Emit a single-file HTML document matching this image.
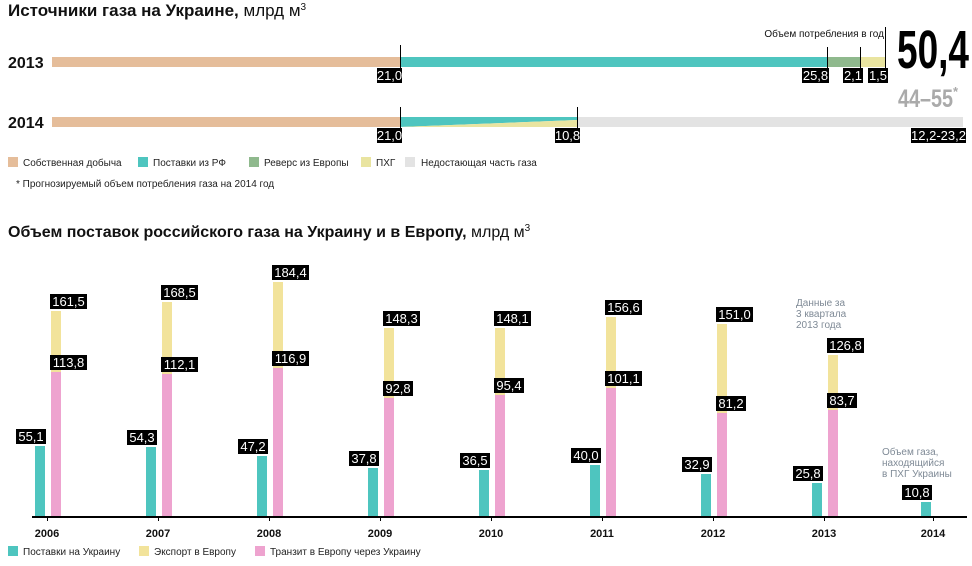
<!DOCTYPE html><html><head><meta charset="utf-8"><style>
body{margin:0;background:#fff;width:972px;height:561px;overflow:hidden}
text{font-family:"Liberation Sans",sans-serif}
</style></head><body>
<svg width="972" height="561" xmlns="http://www.w3.org/2000/svg">
<text x="8" y="16" font-size="17" font-weight="bold" fill="#111">Источники газа на Украине,<tspan font-weight="normal"> млрд м</tspan><tspan font-size="10" dy="-6" font-weight="normal">3</tspan></text>
<text x="8" y="68" font-size="16" font-weight="bold" fill="#111">2013</text>
<text x="8" y="128" font-size="16" font-weight="bold" fill="#111">2014</text>
<rect x="52" y="57" width="348" height="10" fill="#e5bd9a"/>
<rect x="400" y="57" width="427" height="10" fill="#4ec5bf"/>
<rect x="827" y="57" width="33" height="10" fill="#8fb98d"/>
<rect x="860" y="57" width="25" height="10" fill="#e9e4a0"/>
<rect x="52" y="117" width="348" height="10" fill="#e5bd9a"/>
<polygon points="400,117 577,117 577,120 400,127" fill="#4ec5bf"/>
<polygon points="400,127 577,120 577,127" fill="#e9e4a0"/>
<rect x="577" y="117" width="386" height="10" fill="#e3e3e3"/>
<g stroke="#000" stroke-width="1">
<line x1="400.5" y1="45" x2="400.5" y2="68"/><line x1="827.5" y1="47" x2="827.5" y2="68"/>
<line x1="860.5" y1="47" x2="860.5" y2="68"/><line x1="885.5" y1="27" x2="885.5" y2="68"/>
<line x1="400.5" y1="107" x2="400.5" y2="128"/><line x1="577.5" y1="107" x2="577.5" y2="128"/>
</g>
<text x="884" y="37" font-size="10" text-anchor="end" fill="#111">Объем потребления в год</text>
<g font-size="13" fill="#fff">
<rect x="377" y="68" width="25" height="15" fill="#000"/><text x="389.5" y="80" text-anchor="middle">21,0</text>
<rect x="802" y="68" width="27" height="15" fill="#000"/><text x="815.5" y="80" text-anchor="middle">25,8</text>
<rect x="843" y="68" width="20" height="15" fill="#000"/><text x="853" y="80" text-anchor="middle">2,1</text>
<rect x="868" y="68" width="20" height="15" fill="#000"/><text x="878" y="80" text-anchor="middle">1,5</text>
<rect x="377" y="128" width="25" height="15" fill="#000"/><text x="389.5" y="140" text-anchor="middle">21,0</text>
<rect x="555" y="128" width="25" height="15" fill="#000"/><text x="567.5" y="140" text-anchor="middle">10,8</text>
<rect x="911" y="128" width="55" height="15" fill="#000"/><text x="938.5" y="140" text-anchor="middle">12,2-23,2</text>
</g>
<text x="897" y="68" font-size="54" font-weight="bold" fill="#000" textLength="72" lengthAdjust="spacingAndGlyphs">50,4</text>
<text x="898" y="107" font-size="25" font-weight="bold" fill="#aaa" textLength="55" lengthAdjust="spacingAndGlyphs">44–55</text>
<text x="953" y="96" font-size="13" font-weight="bold" fill="#aaa">*</text>
<g font-size="10" fill="#222">
<rect x="8" y="157" width="10" height="10" fill="#e5bd9a"/><text x="23" y="166">Собственная добыча</text>
<rect x="138" y="157" width="10" height="10" fill="#4ec5bf"/><text x="153" y="166">Поставки из РФ</text>
<rect x="249" y="157" width="10" height="10" fill="#8fb98d"/><text x="264" y="166">Реверс из Европы</text>
<rect x="361" y="157" width="10" height="10" fill="#e9e4a0"/><text x="376" y="166">ПХГ</text>
<rect x="405" y="157" width="10" height="10" fill="#e3e3e3"/><text x="421" y="166">Недостающая часть газа</text>
<text x="16" y="187">* Прогнозируемый объем потребления газа на 2014 год</text>
</g>
<text x="8" y="237" font-size="16" font-weight="bold" fill="#111">Объем поставок российского газа на Украину и в Европу,<tspan font-weight="normal"> млрд м</tspan><tspan font-size="10" dy="-6" font-weight="normal">3</tspan></text>
<line x1="32" y1="517" x2="967" y2="517" stroke="#000" stroke-width="2"/>
<g stroke="#000"><line x1="47.5" y1="517" x2="47.5" y2="521"/><line x1="158.5" y1="517" x2="158.5" y2="521"/><line x1="269.5" y1="517" x2="269.5" y2="521"/><line x1="380.5" y1="517" x2="380.5" y2="521"/><line x1="491.5" y1="517" x2="491.5" y2="521"/><line x1="602.5" y1="517" x2="602.5" y2="521"/><line x1="713.5" y1="517" x2="713.5" y2="521"/><line x1="824.5" y1="517" x2="824.5" y2="521"/><line x1="933.5" y1="517" x2="933.5" y2="521"/></g>
<g font-size="11" font-weight="bold" fill="#111" text-anchor="middle">
<text x="47" y="537">2006</text><text x="158" y="537">2007</text><text x="269" y="537">2008</text><text x="380" y="537">2009</text><text x="491" y="537">2010</text><text x="602" y="537">2011</text><text x="713" y="537">2012</text><text x="824" y="537">2013</text><text x="933" y="537">2014</text>
</g>
<g>
<rect x="35" y="446" width="10" height="70" fill="#4ec5bf"/><rect x="51" y="311" width="10" height="205" fill="#f2e39b"/><rect x="51" y="372" width="10" height="144" fill="#eea3cf"/>
<rect x="146" y="447" width="10" height="69" fill="#4ec5bf"/><rect x="162" y="302" width="10" height="214" fill="#f2e39b"/><rect x="162" y="374" width="10" height="142" fill="#eea3cf"/>
<rect x="257" y="456" width="10" height="60" fill="#4ec5bf"/><rect x="273" y="282" width="10" height="234" fill="#f2e39b"/><rect x="273" y="368" width="10" height="148" fill="#eea3cf"/>
<rect x="368" y="468" width="10" height="48" fill="#4ec5bf"/><rect x="384" y="328" width="10" height="188" fill="#f2e39b"/><rect x="384" y="398" width="10" height="118" fill="#eea3cf"/>
<rect x="479" y="470" width="10" height="46" fill="#4ec5bf"/><rect x="495" y="328" width="10" height="188" fill="#f2e39b"/><rect x="495" y="395" width="10" height="121" fill="#eea3cf"/>
<rect x="590" y="465" width="10" height="51" fill="#4ec5bf"/><rect x="606" y="317" width="10" height="199" fill="#f2e39b"/><rect x="606" y="388" width="10" height="128" fill="#eea3cf"/>
<rect x="701" y="474" width="10" height="42" fill="#4ec5bf"/><rect x="717" y="324" width="10" height="192" fill="#f2e39b"/><rect x="717" y="413" width="10" height="103" fill="#eea3cf"/>
<rect x="812" y="483" width="10" height="33" fill="#4ec5bf"/><rect x="828" y="355" width="10" height="161" fill="#f2e39b"/><rect x="828" y="410" width="10" height="106" fill="#eea3cf"/>
<rect x="921" y="502" width="10" height="14" fill="#4ec5bf"/>
</g>
<g fill="#000">
<rect x="16" y="429" width="30" height="15"/><rect x="50" y="294" width="37" height="15"/><rect x="50" y="355" width="37" height="15"/>
<rect x="127" y="430" width="30" height="15"/><rect x="161" y="285" width="37" height="15"/><rect x="161" y="357" width="37" height="15"/>
<rect x="238" y="439" width="30" height="15"/><rect x="272" y="265" width="37" height="15"/><rect x="272" y="351" width="37" height="15"/>
<rect x="349" y="451" width="30" height="15"/><rect x="383" y="311" width="37" height="15"/><rect x="383" y="381" width="30" height="15"/>
<rect x="460" y="453" width="30" height="15"/><rect x="494" y="311" width="37" height="15"/><rect x="494" y="378" width="30" height="15"/>
<rect x="571" y="448" width="30" height="15"/><rect x="605" y="300" width="37" height="15"/><rect x="605" y="371" width="37" height="15"/>
<rect x="682" y="457" width="30" height="15"/><rect x="716" y="307" width="37" height="15"/><rect x="716" y="396" width="30" height="15"/>
<rect x="793" y="466" width="30" height="15"/><rect x="827" y="338" width="37" height="15"/><rect x="827" y="393" width="30" height="15"/>
<rect x="902" y="485" width="30" height="15"/>
</g>
<g font-size="13" fill="#fff" text-anchor="middle">
<text x="31" y="441">55,1</text><text x="68.5" y="306">161,5</text><text x="68.5" y="367">113,8</text>
<text x="142" y="442">54,3</text><text x="179.5" y="297">168,5</text><text x="179.5" y="369">112,1</text>
<text x="253" y="451">47,2</text><text x="290.5" y="277">184,4</text><text x="290.5" y="363">116,9</text>
<text x="364" y="463">37,8</text><text x="401.5" y="323">148,3</text><text x="398" y="393">92,8</text>
<text x="475" y="465">36,5</text><text x="512.5" y="323">148,1</text><text x="509" y="390">95,4</text>
<text x="586" y="460">40,0</text><text x="623.5" y="312">156,6</text><text x="623.5" y="383">101,1</text>
<text x="697" y="469">32,9</text><text x="734.5" y="319">151,0</text><text x="731" y="408">81,2</text>
<text x="808" y="478">25,8</text><text x="845.5" y="350">126,8</text><text x="842" y="405">83,7</text>
<text x="917" y="497">10,8</text>
</g>
<g font-size="10" fill="#222">
<rect x="8" y="546" width="10" height="10" fill="#4ec5bf"/><text x="23" y="555">Поставки на Украину</text>
<rect x="139" y="546" width="10" height="10" fill="#f2e39b"/><text x="154" y="555">Экспорт в Европу</text>
<rect x="255" y="546" width="10" height="10" fill="#eea3cf"/><text x="270" y="555">Транзит в Европу через Украину</text>
</g>
<g font-size="10" fill="#7f8a96">
<text x="796" y="306">Данные за</text><text x="796" y="317">3 квартала</text><text x="796" y="328">2013 года</text>
<text x="882" y="455">Объем газа,</text><text x="882" y="466">находящийся</text><text x="882" y="477">в ПХГ Украины</text>
</g>
</svg>
</body></html>
